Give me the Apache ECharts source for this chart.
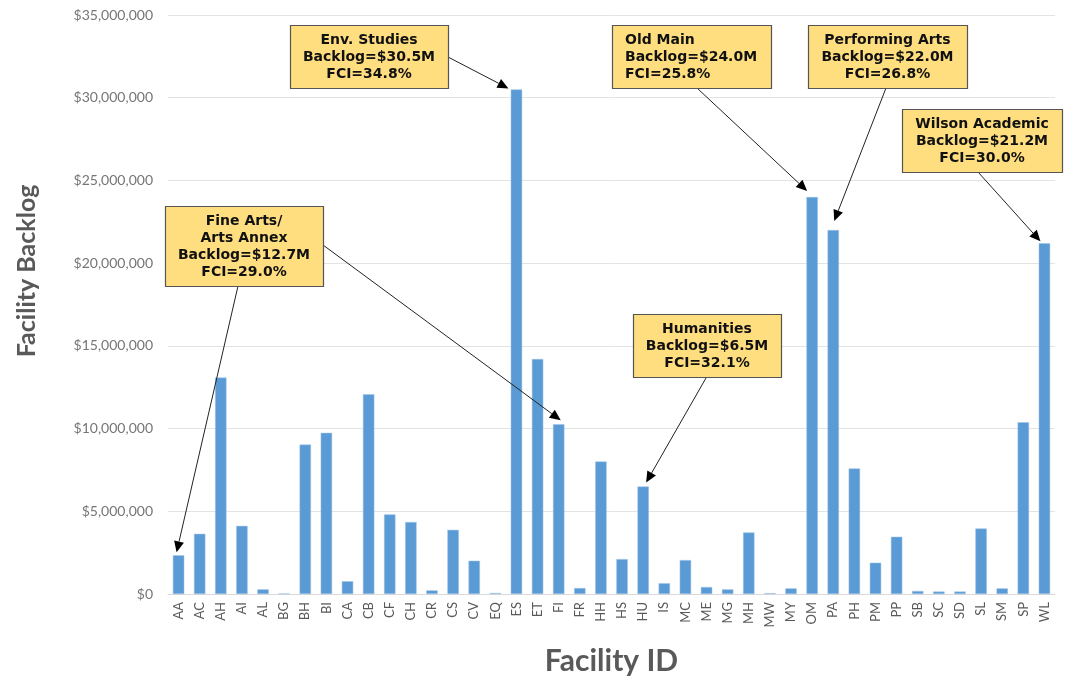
<!DOCTYPE html>
<html>
<head>
<meta charset="utf-8">
<script src="https://cdn.jsdelivr.net/npm/echarts@6/dist/echarts.min.js"></script>
<style>
  html, body { margin: 0; padding: 0; background: #fff; }
  #main { width: 1065px; height: 681px; }
</style>
</head>
<body>
<div id="main"></div>
<script>
const categories = ['AA', 'AC', 'AH', 'AI', 'AL', 'BG', 'BH', 'BI', 'CA', 'CB', 'CF', 'CH', 'CR', 'CS',
  'CV', 'EQ', 'ES', 'ET', 'FI', 'FR', 'HH', 'HS', 'HU', 'IS', 'MC', 'ME', 'MG', 'MH', 'MW', 'MY',
  'OM', 'PA', 'PH', 'PM', 'PP', 'SB', 'SC', 'SD', 'SL', 'SM', 'SP', 'WL'];

// backlog in dollars
const backlog = [2340000, 3640000, 13080000, 4120000, 280000, 30000, 9030000, 9740000, 770000,
  12070000, 4810000, 4350000, 220000, 3880000, 2010000, 60000, 30500000, 14200000, 10260000,
  360000, 8010000, 2110000, 6500000, 650000, 2050000, 420000, 280000, 3720000, 50000, 340000,
  24000000, 22000000, 7590000, 1890000, 3460000, 180000, 150000, 150000, 3960000, 340000,
  10380000, 21200000];

const yTicks = { min: 0, max: 35000000, interval: 5000000 };

// callout boxes: text lines, box rect [x, y, w, h], text align
const notes = [
  { lines: ['Env. Studies', 'Backlog=$30.5M', 'FCI=34.8%'], box: [290, 25, 158, 63], align: 'center' },
  { lines: ['Old Main', 'Backlog=$24.0M', 'FCI=25.8%'], box: [612, 25, 159, 63], align: 'left' },
  { lines: ['Performing Arts', 'Backlog=$22.0M', 'FCI=26.8%'], box: [808, 25, 159, 63], align: 'center' },
  { lines: ['Wilson Academic', 'Backlog=$21.2M', 'FCI=30.0%'], box: [902, 109, 160, 63], align: 'center' },
  { lines: ['Fine Arts/', 'Arts Annex', 'Backlog=$12.7M', 'FCI=29.0%'], box: [165, 206, 158, 80], align: 'center' },
  { lines: ['Humanities', 'Backlog=$6.5M', 'FCI=32.1%'], box: [633, 314, 148, 63], align: 'center' }
];

// arrows: start point on a box, target facility, tip offset from the bar top centre
const arrows = [
  { from: [448, 57], to: 'ES', off: [-8, -1] },
  { from: [697, 88], to: 'OM', off: [-5, -6] },
  { from: [886, 88], to: 'PA', off: [1, -9] },
  { from: [978, 172], to: 'WL', off: [-4, -2] },
  { from: [238, 286], to: 'AA', off: [-2, -3] },
  { from: [323, 245], to: 'FI', off: [2, -4] },
  { from: [706, 378], to: 'HU', off: [3, -4] }
];

const chart = echarts.init(document.getElementById('main'));

function money(v) {
  return '$' + v.toLocaleString('en-US');
}

chart.setOption({
  animation: false,
  grid: { left: 168, right: 10, top: 15, bottom: 86, containLabel: false },
  xAxis: {
    type: 'category',
    data: categories,
    name: 'Facility ID',
    nameLocation: 'middle',
    nameGap: 52,
    nameTextStyle: { fontFamily: 'Lato', fontWeight: 'bold', fontSize: 30, color: '#595959' },
    axisLine: { lineStyle: { color: '#D9D9D9' } },
    axisTick: { show: false },
    axisLabel: { rotate: 90, interval: 0, margin: 8, fontFamily: 'Lato', fontSize: 13, color: '#595959' }
  },
  yAxis: {
    type: 'value',
    min: yTicks.min,
    max: yTicks.max,
    interval: yTicks.interval,
    axisLine: { show: false },
    axisTick: { show: false },
    splitLine: { lineStyle: { color: '#E3E3E3' } },
    axisLabel: { formatter: money, margin: 15, fontFamily: 'Lato', fontSize: 14, color: '#767676' }
  },
  series: [{
    type: 'bar',
    data: backlog,
    barCategoryGap: '46%',
    itemStyle: { color: '#5B9BD5', borderColor: '#9DC3E6', borderWidth: 0.5 }
  }]
});

const graphics = [];

graphics.push({
  type: 'text',
  x: 27,
  y: 271,
  rotation: Math.PI / 2,
  style: {
    text: 'Facility Backlog',
    fontFamily: 'Lato',
    fontWeight: 'bold',
    fontSize: 25,
    fill: '#595959',
    align: 'center',
    verticalAlign: 'middle'
  }
});

arrows.forEach(function (a) {
  const i = categories.indexOf(a.to);
  const p = chart.convertToPixel({ seriesIndex: 0 }, [i, backlog[i]]);
  const tip = [p[0] + a.off[0], p[1] + a.off[1]];
  const dx = tip[0] - a.from[0];
  const dy = tip[1] - a.from[1];
  const len = Math.sqrt(dx * dx + dy * dy);
  const ux = dx / len, uy = dy / len;
  const headLen = 11, headW = 5;
  const base = [tip[0] - ux * headLen, tip[1] - uy * headLen];
  graphics.push({
    type: 'line',
    z: 10,
    shape: { x1: a.from[0], y1: a.from[1], x2: base[0], y2: base[1] },
    style: { stroke: '#222', lineWidth: 1 }
  });
  graphics.push({
    type: 'polygon',
    z: 10,
    shape: {
      points: [
        tip,
        [base[0] - uy * headW, base[1] + ux * headW],
        [base[0] + uy * headW, base[1] - ux * headW]
      ]
    },
    style: { fill: '#000' }
  });
});

notes.forEach(function (n) {
  const b = n.box;
  const lineH = 17;
  const textH = n.lines.length * lineH;
  graphics.push({
    type: 'rect',
    z: 20,
    shape: { x: b[0] + 0.5, y: b[1] + 0.5, width: b[2], height: b[3] },
    style: { fill: '#FFDE80', stroke: '#555', lineWidth: 1.2 }
  });
  graphics.push({
    type: 'text',
    z: 21,
    x: n.align === 'left' ? b[0] + 13 : b[0] + b[2] / 2,
    y: b[1] + (b[3] - textH) / 2 + 1,
    style: {
      text: n.lines.join('\n'),
      fontFamily: 'DejaVu Sans',
      fontWeight: 'bold',
      fontSize: 14,
      lineHeight: lineH,
      fill: '#111',
      align: n.align,
      verticalAlign: 'top'
    }
  });
});

chart.setOption({ graphic: graphics });
</script>
</body>
</html>
